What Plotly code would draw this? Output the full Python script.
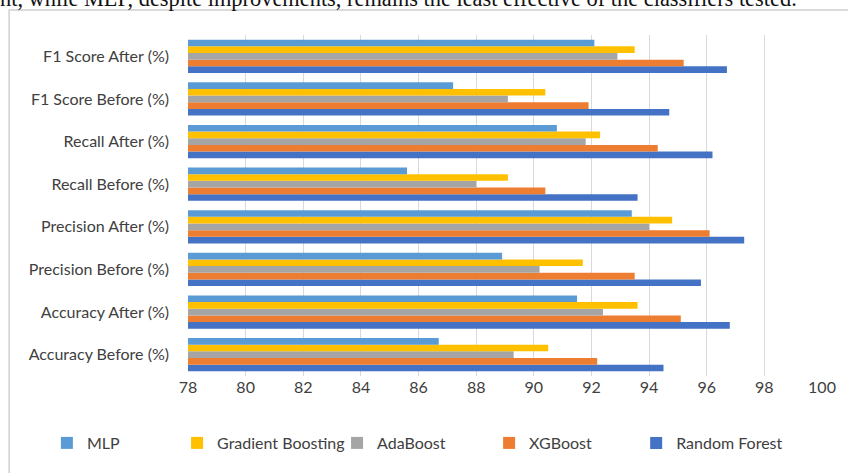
import plotly.graph_objects as go

categories = ["Accuracy Before (%)", "Accuracy After (%)", "Precision Before (%)",
              "Precision After (%)", "Recall Before (%)", "Recall After (%)",
              "F1 Score Before (%)", "F1 Score After (%)"]

mlp = [86.7, 91.5, 88.9, 93.4, 85.6, 90.8, 87.2, 92.1]
gradient_boosting = [90.5, 93.6, 91.7, 94.8, 89.1, 92.3, 90.4, 93.5]
adaboost = [89.3, 92.4, 90.2, 94.0, 88.0, 91.8, 89.1, 92.9]
xgboost = [92.2, 95.1, 93.5, 96.1, 90.4, 94.3, 91.9, 95.2]
random_forest = [94.5, 96.8, 95.8, 97.3, 93.6, 96.2, 94.7, 96.7]

tick_vals = [78, 80, 82, 84, 86, 88, 90, 92, 94, 96, 98, 100]

caption = "nt, while MLP, despite improvements, remains the least effective of the classifiers tested."

W, H = 848, 473
L, R, T, B = 188, 22, 35, 97
pw, ph = W - L - R, H - T - B

def px_x(p):
    return (p - L) / pw

def px_y(p):
    return 1 - (p - T) / ph

# traces added bottom-up inside each group (Random Forest lowest)
series = [
    ("Random Forest", random_forest, "#4472C4", "legend5", 681),
    ("XGBoost", xgboost, "#ED7D31", "legend4", 533),
    ("AdaBoost", adaboost, "#A5A5A5", "legend3", 380),
    ("Gradient Boosting", gradient_boosting, "#FFC000", "legend2", 219),
    ("MLP", mlp, "#5B9BD5", "legend", 88),
]

fig = go.Figure()
legend_layout = {}
for name, vals, color, leg, text_x in series:
    fig.add_trace(go.Bar(
        y=categories, x=vals, name=name, orientation="h",
        marker=dict(color=color, line=dict(width=0)),
        legend=leg,
    ))
    legend_layout[leg] = dict(
        x=px_x(text_x - 42), y=px_y(443), xanchor="left", yanchor="middle",
        orientation="h", bgcolor="rgba(0,0,0,0)",
        font=dict(family="Lato", size=16, color="#404040"),
    )

fig.update_layout(
    width=W, height=H,
    margin=dict(l=L, r=R, t=T, b=B),
    barmode="group", bargap=0.22, bargroupgap=0,
    plot_bgcolor="white", paper_bgcolor="white",
    xaxis=dict(range=[78, 100], tickvals=tick_vals, showgrid=True,
               gridcolor="#D9D9D9", gridwidth=1, zeroline=False, showline=False,
               ticks="", tickfont=dict(family="Lato", size=16, color="#404040")),
    yaxis=dict(categoryorder="array", categoryarray=categories, showgrid=False,
               showline=False, ticks="", ticklen=0, ticklabelstandoff=18,
               tickfont=dict(family="Lato", size=16, color="#404040")),
    showlegend=True,
    **legend_layout,
)

# chart frame border
fig.add_shape(type="rect", xref="paper", yref="paper",
              x0=px_x(8), x1=px_x(860), y0=px_y(10), y1=px_y(490),
              line=dict(color="#D0D0D0", width=1.5), fillcolor="rgba(0,0,0,0)",
              layer="above")

fig.add_annotation(text=caption, xref="paper", yref="paper",
                   x=px_x(-3), y=px_y(13), xanchor="left", yanchor="bottom",
                   showarrow=False,
                   font=dict(family="Liberation Serif", size=22.4, color="#111"))

fig.write_html("out.html")
